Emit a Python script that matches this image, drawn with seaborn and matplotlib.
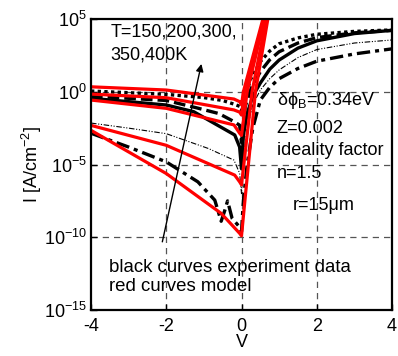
import numpy as np
import pandas as pd
import matplotlib
matplotlib.use('Agg')
import matplotlib.pyplot as plt
import seaborn as sns

# measured I-V data (log10 of current density), read off the figure
# black curves: experiment, one per temperature
v_150 = [-4.0, -3.0, -2.0, -1.16, -0.71, -0.54, -0.45, -0.37, -0.25, -0.15, -0.05, 0.0,
         0.05, 0.15, 0.3, 0.5, 0.75, 1.0, 1.5, 2.0, 3.0, 4.0]
log_150 = [-2.85, -3.8, -4.82, -6.19, -7.45, -8.9, -8.2, -7.5, -8.7, -9.0, -9.3, -9.6,
           -7.5, -5.0, -2.5, -0.57, 0.3, 0.9, 1.6, 2.1, 2.6, 2.95]

v_200 = [-4.0, -3.0, -2.0, -0.88, -0.2, -0.05, 0.0, 0.05, 0.15, 0.3, 0.5, 0.75, 1.0, 1.5, 2.0, 3.0, 4.0]
log_200 = [-2.15, -2.5, -2.88, -3.9, -4.7, -5.6, -7.0, -4.5, -2.5, -0.9, 0.12, 0.9, 1.5, 2.35, 2.9, 3.35, 3.56]

v_300 = [-4.0, -2.0, -1.27, -0.65, -0.18, -0.05, 0.0, 0.05, 0.15, 0.3, 0.5, 0.75, 1.0, 1.5, 2.0, 3.0, 4.0]
log_300 = [-0.45, -0.91, -1.37, -2.28, -2.97, -3.8, -5.3, -3.0, -1.5, -0.3, 0.6, 1.55, 2.18, 3.0, 3.5, 4.0, 4.22]

v_350 = [-4.0, -2.0, -1.2, -0.6, -0.2, -0.05, 0.0, 0.1, 0.25, 0.5, 0.75, 1.0, 1.5, 2.0, 3.0, 4.0]
log_350 = [-0.3, -0.6, -1.1, -1.5, -2.05, -2.3, -3.5, -1.0, 0.2, 1.38, 2.2, 2.75, 3.35, 3.72, 4.05, 4.22]

v_400 = [-4.0, -2.0, -1.0, -0.5, -0.2, -0.05, 0.0, 0.1, 0.25, 0.5, 0.75, 1.0, 1.5, 2.0, 3.0, 4.0]
log_400 = [0.05, -0.18, -0.4, -0.6, -0.85, -1.0, -1.3, -0.3, 0.9, 2.07, 2.8, 3.3, 3.7, 3.95, 4.15, 4.25]

# red curves: model
m1_v = [-4.0, -2.0, -0.2, -0.05, 0.0, 0.05, 0.6]
m1_log = [0.34, 0.12, -0.5, -0.68, -0.9, 0.0, 5.3]
m2_v = [-4.0, -2.0, -0.2, -0.05, 0.0, 0.08, 0.62]
m2_log = [-0.16, -0.41, -1.25, -1.4, -1.6, 0.0, 5.3]
m3_v = [-4.0, -2.0, -0.2, -0.05, 0.0, 0.15, 0.64]
m3_log = [-0.57, -1.14, -2.28, -2.85, -3.0, 0.0, 5.3]
m4_v = [-4.0, -2.0, -0.18, -0.05, 0.0, 0.28, 0.68]
m4_log = [-2.31, -3.68, -5.73, -6.19, -6.4, 0.0, 5.3]
m5_v = [-4.0, -2.0, -0.54, -0.05, 0.0, 0.37, 0.72]
m5_log = [-2.65, -5.62, -8.36, -9.73, -9.9, 0.0, 5.3]

plt.rcParams['font.family'] = ['Liberation Sans', 'DejaVu Sans']
plt.rcParams['mathtext.fontset'] = 'custom'
plt.rcParams['mathtext.rm'] = 'Liberation Sans'
plt.rcParams['mathtext.it'] = 'Liberation Sans'
plt.rcParams['mathtext.default'] = 'regular'
plt.rcParams['axes.unicode_minus'] = False

fig = plt.figure(figsize=(3.98, 3.56), dpi=100)
ax = fig.add_axes([0.2286, 0.1292, 0.7564, 0.8174])

black = [(v_150, log_150, (0, (4, 1.5, 1.2, 1.5)), 2.4),
         (v_200, log_200, (0, (5, 1.5, 1, 1.5, 1, 1.5)), 0.8),
         (v_300, log_300, '-', 2.4),
         (v_350, log_350, (0, (3.5, 1.5)), 2.4),
         (v_400, log_400, (0, (1, 1)), 2.4)]
for v, lg, ls, lw in black:
    d = pd.DataFrame({'V': v, 'I': 10.0 ** np.array(lg)})
    sns.lineplot(data=d, x='V', y='I', ax=ax, color='black', lw=lw, linestyle=ls, sort=False)

for v, lg in [(m1_v, m1_log), (m2_v, m2_log), (m3_v, m3_log), (m4_v, m4_log), (m5_v, m5_log)]:
    d = pd.DataFrame({'V': v, 'I': 10.0 ** np.array(lg)})
    sns.lineplot(data=d, x='V', y='I', ax=ax, color='#ff0000', lw=2.3, sort=False)

ax.set_yscale('log')
ax.set_xlim(-4, 4)
ax.set_ylim(1e-15, 1e5)
ax.set_xticks([-4, -2, 0, 2, 4])
ax.set_yticks([1e-15, 1e-10, 1e-5, 1e0, 1e5])
ax.minorticks_off()
ax.tick_params(direction='in', length=4, width=1, labelsize=13)
ax.tick_params(axis='x', pad=6)
ax.tick_params(axis='y', pad=3)
for s in ax.spines.values():
    s.set_linewidth(1.6)
for x in [-2, 0, 2]:
    ax.axvline(x, color='#555555', lw=0.9, ls=(0, (5, 4)), zorder=0)
for y in [1e-10, 1e-5, 1e0]:
    ax.axhline(y, color='#555555', lw=0.9, ls=(0, (5, 4)), zorder=0)

ax.set_xlabel('V', fontsize=13, labelpad=-1)
ax.set_ylabel('I [A/cm$^{-2}$]', fontsize=13, labelpad=0)

ax.annotate('', xy=(-1.05, 10 ** 2.1), xytext=(-2.12, 10 ** -10.5),
            arrowprops=dict(arrowstyle='-|>', color='black', lw=1, mutation_scale=11))
ax.text(0.065, 0.9165, 'T=150,200,300,\n350,400K', transform=ax.transAxes, fontsize=13,
        va='center', linespacing=1.45)
ax.text(0.617, 0.7216, r'$\delta\phi_B$=0.34eV', transform=ax.transAxes, fontsize=13, va='center')
ax.text(0.617, 0.6244, 'Z=0.002', transform=ax.transAxes, fontsize=13, va='center')
ax.text(0.617, 0.5498, 'ideality factor', transform=ax.transAxes, fontsize=13, va='center')
ax.text(0.617, 0.4698, 'n=1.5', transform=ax.transAxes, fontsize=13, va='center')
ax.text(0.670, 0.3608, 'r=15μm', transform=ax.transAxes, fontsize=13, va='center')
ax.text(0.06, 0.1134, 'black curves experiment data\nred curves model', transform=ax.transAxes,
        fontsize=13.4, va='center', linespacing=1.15)

fig.savefig('out.png', dpi=100)
